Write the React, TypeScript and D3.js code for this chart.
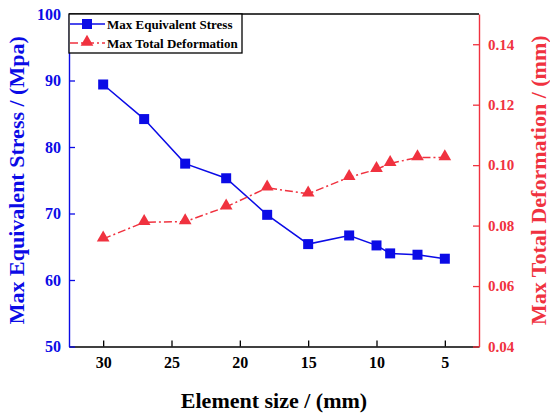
import React, { useEffect, useRef } from "react";
import * as d3 from "d3";

// element size (mm) on the x axis
const elementSize = [30, 27, 24, 21, 18, 15, 12, 10, 9, 7, 5];
const maxStress = [89.4, 84.2, 77.5, 75.3, 69.8, 65.4, 66.7, 65.2, 64.0, 63.8, 63.2];
const maxDeformation = [0.0756, 0.0811, 0.0813, 0.0862, 0.0925, 0.0905, 0.096, 0.0986, 0.1006, 0.1025, 0.1025];

const xTicks = [30, 25, 20, 15, 10, 5];
const stressTicks = [50, 60, 70, 80, 90, 100];
const deformTicks = [0.04, 0.06, 0.08, 0.1, 0.12, 0.14];

const seriesNames = ["Max Equivalent Stress", "Max Total Deformation"];

const BLUE = "#0b0be6";
const RED = "#f0323f";
const FONT = "'Liberation Serif', 'Times New Roman', serif";

const W = 550;
const H = 416;
const m = { t: 14, r: 71, b: 69.5, l: 69 };

const App = () => {
    const ref = useRef<SVGSVGElement>(null);

    useEffect(() => {
        const svg = d3.select(ref.current!);
        svg.selectAll("*").remove();

        const x = d3.scaleLinear().domain([32.5, 2.5]).range([m.l, W - m.r]);
        const yL = d3.scaleLinear().domain([50, 100]).range([H - m.b, m.t]);
        const yR = d3.scaleLinear().domain([0.04, 0.15]).range([H - m.b, m.t]);

        // axes, ticks point inward
        const axX = d3.axisBottom(x).tickValues(xTicks).tickSizeInner(-6).tickSizeOuter(0).tickPadding(10)
            .tickFormat(d => `${d}`);
        const axL = d3.axisLeft(yL).tickValues(stressTicks).tickSizeInner(-6).tickSizeOuter(0).tickPadding(8);
        const axR = d3.axisRight(yR).tickValues(deformTicks).tickSizeInner(-6).tickSizeOuter(0).tickPadding(9)
            .tickFormat(d3.format(".2f"));

        const gX = svg.append("g").attr("transform", `translate(0,${H - m.b})`).call(axX);
        const gL = svg.append("g").attr("transform", `translate(${m.l},0)`).call(axL);
        const gR = svg.append("g").attr("transform", `translate(${W - m.r},0)`).call(axR);

        // top frame
        svg.append("line")
            .attr("x1", m.l).attr("x2", W - m.r)
            .attr("y1", m.t).attr("y2", m.t)
            .attr("stroke", "#000").attr("stroke-width", 1.4);

        const styleAxis = (g: any, color: string, size: number) => {
            g.select(".domain").attr("stroke", color).attr("stroke-width", 1.4);
            g.selectAll(".tick line").attr("stroke", color).attr("stroke-width", 1.3);
            g.selectAll("text")
                .attr("fill", color)
                .style("font-family", FONT)
                .style("font-weight", 700)
                .style("font-size", `${size}px`);
        };
        styleAxis(gX, "#000", 16);
        styleAxis(gL, BLUE, 16);
        styleAxis(gR, RED, 15);

        // stress line
        const lineL = d3.line<number>()
            .x((_, i) => x(elementSize[i]))
            .y(d => yL(d));
        svg.append("path")
            .attr("d", lineL(maxStress)!)
            .attr("fill", "none")
            .attr("stroke", BLUE)
            .attr("stroke-width", 1.5);

        // deformation line
        const lineR = d3.line<number>()
            .x((_, i) => x(elementSize[i]))
            .y(d => yR(d));
        svg.append("path")
            .attr("d", lineR(maxDeformation)!)
            .attr("fill", "none")
            .attr("stroke", RED)
            .attr("stroke-width", 1.5)
            .attr("stroke-dasharray", "8,3,2,3");

        const square = d3.symbol().type(d3.symbolSquare).size(100);
        const triangle = d3.symbol().type(d3.symbolTriangle).size(70);

        svg.append("g").selectAll("path")
            .data(maxStress)
            .enter()
            .append("path")
            .attr("d", square()!)
            .attr("transform", (d, i) => `translate(${x(elementSize[i])},${yL(d)})`)
            .attr("fill", BLUE);

        svg.append("g").selectAll("path")
            .data(maxDeformation)
            .enter()
            .append("path")
            .attr("d", triangle()!)
            .attr("transform", (d, i) => `translate(${x(elementSize[i])},${yR(d) - 1})`)
            .attr("fill", RED);

        // legend
        const lg = svg.append("g");
        lg.append("rect")
            .attr("x", m.l).attr("y", m.t)
            .attr("width", 173).attr("height", 39)
            .attr("fill", "#fff")
            .attr("stroke", "#000")
            .attr("stroke-width", 1.3);
        const rows = [
            { name: seriesNames[0], color: BLUE, dash: null, shape: square, y: 24 },
            { name: seriesNames[1], color: RED, dash: "8,3,2,3", shape: triangle, y: 43 },
        ];
        rows.forEach(r => {
            lg.append("line")
                .attr("x1", m.l + 1).attr("x2", m.l + 36)
                .attr("y1", r.y).attr("y2", r.y)
                .attr("stroke", r.color)
                .attr("stroke-width", 1.5)
                .attr("stroke-dasharray", r.dash);
            lg.append("path")
                .attr("d", r.shape()!)
                .attr("transform", `translate(${m.l + 18},${r.y - (r.shape === triangle ? 1 : 0)})`)
                .attr("fill", r.color);
            lg.append("text")
                .attr("x", m.l + 38)
                .attr("y", r.y)
                .attr("dy", "0.35em")
                .attr("fill", "#000")
                .style("font-family", FONT)
                .style("font-weight", 700)
                .style("font-size", "13px")
                .text(r.name);
        });

        // axis titles
        const cy = (m.t + H - m.b) / 2;
        svg.append("text")
            .attr("transform", `translate(24,${cy}) rotate(-90)`)
            .attr("text-anchor", "middle")
            .attr("fill", BLUE)
            .style("font-family", FONT)
            .style("font-weight", 700)
            .style("font-size", "22px")
            .text("Max Equivalent Stress / (Mpa)");
        svg.append("text")
            .attr("transform", `translate(546,${cy}) rotate(-90)`)
            .attr("text-anchor", "middle")
            .attr("fill", RED)
            .style("font-family", FONT)
            .style("font-weight", 700)
            .style("font-size", "22px")
            .text("Max Total Deformation / (mm)");
        svg.append("text")
            .attr("x", (m.l + W - m.r) / 2)
            .attr("y", 408)
            .attr("text-anchor", "middle")
            .attr("fill", "#000")
            .style("font-family", FONT)
            .style("font-weight", 700)
            .style("font-size", "22px")
            .text("Element size / (mm)");
    }, []);

    return (
        <svg
            ref={ref}
            width={W}
            height={H}
            style={{ position: "absolute", left: 0, top: 0, background: "#fff" }}
        />
    );
};

export default App;
